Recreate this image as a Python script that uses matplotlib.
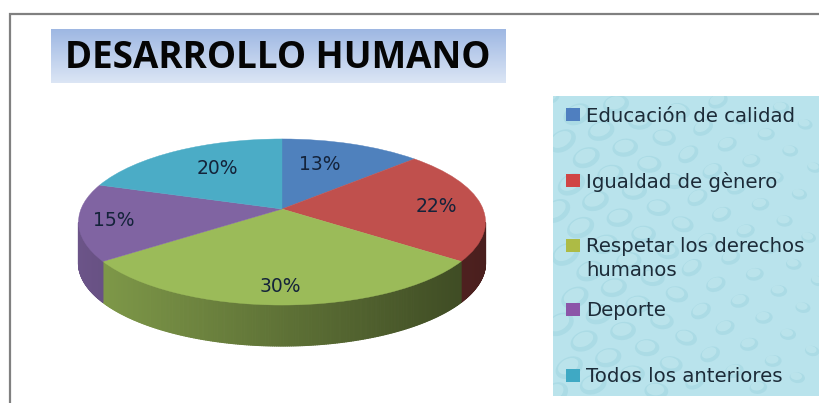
import numpy as np
import matplotlib
matplotlib.use("Agg")
import matplotlib.pyplot as plt
from matplotlib.patches import Rectangle, Ellipse
from matplotlib.collections import PolyCollection
from matplotlib.transforms import Transform

title = "DESARROLLO HUMANO"
categories = ["Educación de calidad", "Igualdad de gènero", "Respetar los derechos\nhumanos", "Deporte", "Todos los anteriores"]
values = [13, 22, 30, 15, 20]
labels = ["13%", "22%", "30%", "15%", "20%"]
colors = ["#4f81bd", "#c0504d", "#9bbb59", "#8064a2", "#4bacc6"]
legend_colors = ["#4f7fc0", "#d04545", "#adbb45", "#8c55a8", "#3fa9c4"]

# label centres and legend rows, in pixels of the picture
label_x = [320, 436, 280, 114, 217]
label_y = [165, 207, 286, 221, 168]
legend_y = [115, 181, 246, 310, 376]

# pie seen in perspective: apex, sizes, tilt
cx, cy = 282, 209
size_x, size_y, tilt = 201, 81, 0.1566
depth = 41


def project(x, y):
    d = 1 + tilt * y
    return cx + size_x * x / d, cy - size_y * y / d


class PieView(Transform):
    input_dims = 2
    output_dims = 2
    is_separable = False
    has_inverse = False

    def transform_non_affine(self, values):
        values = np.asarray(values)
        px, py = project(values[:, 0], values[:, 1])
        return np.column_stack([px, py])


fig = plt.figure(figsize=(8.2, 4.03), dpi=100)
ax = fig.add_axes([0, 0, 1, 1])

# top face
wedges, _ = ax.pie(values, colors=colors, startangle=90, counterclock=False)
for w, c in zip(wedges, colors):
    w.set_transform(PieView() + ax.transData)
    w.set_edgecolor(c)
    w.set_linewidth(0.3)
    w.set_zorder(3)

# side wall, darker to the right, front part only
total = sum(values)
start = 0
for v, c in zip(values, colors):
    th = np.radians(np.linspace(start, start + v, v * 8 + 1) * 360 / total)
    start += v
    px, py = project(np.sin(th), np.cos(th))
    quads = []
    shades = []
    base = np.array(matplotlib.colors.to_rgb(c))
    for i in range(len(th) - 1):
        if py[i] < 222 or py[i + 1] < 222:
            continue
        quads.append([(px[i], py[i]), (px[i + 1], py[i + 1]), (px[i + 1], py[i + 1] + depth), (px[i], py[i] + depth)])
        shades.append(base * np.interp(px[i], [78, 486], [0.84, 0.38]))
    if quads:
        ax.add_collection(PolyCollection(quads, facecolors=shades, edgecolors=shades, linewidths=0.8, zorder=2))

for x, y, s in zip(label_x, label_y, labels):
    ax.text(x, y, s, ha="center", va="center", fontsize=13.5, color="#14233a", zorder=4)

# outer frame
ax.plot([10, 10, 820], [403, 14, 14], color="#808080", lw=1.6, zorder=1, solid_joinstyle="miter")

# title box
grad = np.linspace(0, 1, 54)[:, None, None] * (np.array([0.86, 0.90, 0.96]) - np.array([0.62, 0.72, 0.89])) + np.array([0.62, 0.72, 0.89])
ax.imshow(grad, extent=[51, 506, 83, 29], aspect="auto", zorder=1)
ax.text(278, 58, title, ha="center", va="center", fontsize=26.5, fontweight="bold", family="Open Sans", color="#050505", zorder=4)

# legend box with water drops
box = Rectangle((553, 96), 267, 300, facecolor="#b9e3ec", edgecolor="none", zorder=1)
ax.add_patch(box)
for i in range(90):
    dx = 553 + 267 * ((i * 0.618034) % 1)
    dy = 96 + 300 * ((i + 0.5) / 90)
    w = 14 + 16 * ((i * 0.381966) % 1)
    h = w * 0.7
    ang = -35 + 50 * ((i * 0.2360679) % 1)
    e1 = Ellipse((dx, dy), w, h, angle=ang, facecolor="#96cfdc", edgecolor="none", alpha=0.4, zorder=1.1)
    e2 = Ellipse((dx - 1, dy - 1.5), w * 0.75, h * 0.7, angle=ang, facecolor="#cdeef3", edgecolor="none", alpha=0.45, zorder=1.2)
    ax.add_patch(e1)
    ax.add_patch(e2)
    e1.set_clip_path(box)
    e2.set_clip_path(box)

for y, name, c in zip(legend_y, categories, legend_colors):
    ax.add_patch(Rectangle((566, y - 7), 14, 13, facecolor=c, edgecolor="none", zorder=3))
    ax.text(586, y - 8.5, name, ha="left", va="top", fontsize=14.2, color="#1c2b38", linespacing=1.3, zorder=4)

ax.set_aspect("auto")
ax.set_xlim(0, 820)
ax.set_ylim(403, 0)
ax.axis("off")
fig.savefig("out.png", dpi=100, facecolor="white")
